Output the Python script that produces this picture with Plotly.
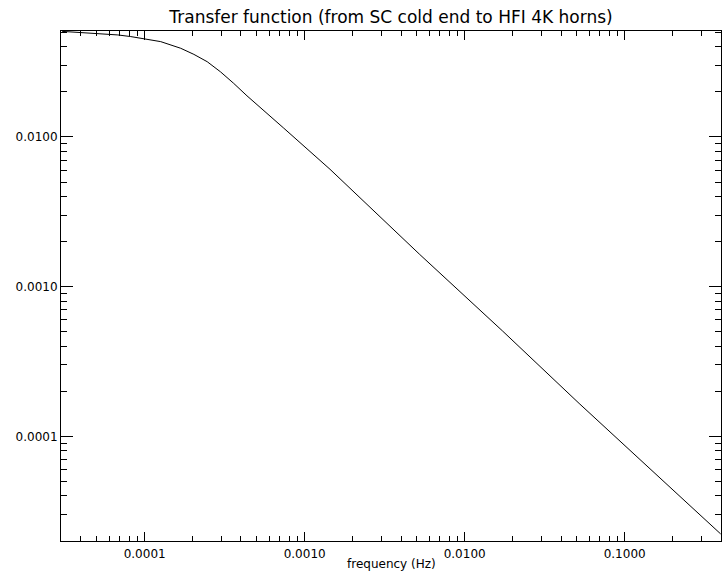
import math
import plotly.graph_objects as go

# Values
freq_hz = [3.05e-5, 4.0e-5, 6.8e-5, 8.19e-5, 9.9e-5, 1.26e-4, 1.68e-4, 2.03e-4,
           2.46e-4, 2.98e-4, 3.60e-4, 4.36e-4, 7.35e-4, 1.44e-3, 5.24e-3,
           1.72e-2, 5.19e-2, 0.148, 0.398]
transfer = [0.0507, 0.0499, 0.0480, 0.0468, 0.0451, 0.0433, 0.0391, 0.0356,
            0.0318, 0.0272, 0.0228, 0.01882, 0.01152, 6.08e-3, 1.64e-3,
            5.07e-4, 1.66e-4, 5.94e-5, 2.23e-5]

x_major = [1e-4, 1e-3, 1e-2, 1e-1]
x_major_text = ["0.0001", "0.0010", "0.0100", "0.1000"]
y_major = [1e-4, 1e-3, 1e-2]
y_major_text = ["0.0001", "0.0010", "0.0100"]

title_text = "Transfer function (from SC cold end to HFI 4K horns)"
x_title = "frequency (Hz)"

x_range = [3.0e-5, 0.4]
y_range = [2.0e-5, 0.051]

def minor_vals(lo, hi):
    vals = []
    d = 1e-6
    while d < hi * 10:
        for m in range(2, 10):
            v = m * d
            if lo <= v <= hi:
                vals.append(v)
        d *= 10
    return vals

FONT = "DejaVu Sans"

fig = go.Figure()
fig.add_trace(go.Scatter(x=freq_hz, y=transfer, mode="lines",
                         line=dict(color="black", width=1), showlegend=False))

fig.update_layout(
    width=722, height=573,
    margin=dict(l=61, r=1, t=31, b=32),
    paper_bgcolor="white", plot_bgcolor="white",
    font=dict(family=FONT, size=12, color="black"),
    title=dict(text=title_text, x=(61 + 721) / 2 / 722, xanchor="center",
               y=1 - 17 / 573, yanchor="middle",
               font=dict(family=FONT, size=17, color="black")),
    annotations=[dict(text=x_title, xref="paper", yref="paper", x=0.5, y=-23 / 510,
                      xanchor="center", yanchor="middle", showarrow=False,
                      font=dict(family=FONT, size=12, color="black"))],
)

fig.update_xaxes(type="log", range=[math.log10(v) for v in x_range],
                 showgrid=False, zeroline=False,
                 showline=True, linecolor="black", linewidth=1, mirror="ticks",
                 ticks="inside", ticklen=9, tickcolor="black", tickwidth=1,
                 ticklabelstandoff=2,
                 tickmode="array", tickvals=x_major, ticktext=x_major_text,
                 minor=dict(ticks="inside", ticklen=5, tickcolor="black", tickwidth=1,
                            tickmode="array", tickvals=minor_vals(*x_range), showgrid=False))
fig.update_yaxes(type="log", range=[math.log10(v) for v in y_range],
                 showgrid=False, zeroline=False,
                 showline=True, linecolor="black", linewidth=1, mirror="ticks",
                 ticks="inside", ticklen=12, tickcolor="black", tickwidth=1,
                 tickmode="array", tickvals=y_major, ticktext=y_major_text,
                 minor=dict(ticks="inside", ticklen=6, tickcolor="black", tickwidth=1,
                            tickmode="array", tickvals=minor_vals(*y_range), showgrid=False))

fig.write_html("out.html", config={"displayModeBar": False},
               post_script="document.body.style.margin='0';")
